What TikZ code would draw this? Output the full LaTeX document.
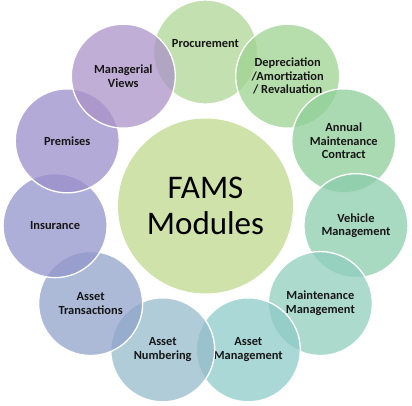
\documentclass[tikz,border=0pt]{standalone}
\usepackage{fontspec}
\setmainfont{Carlito}
\usepackage{tikz}
\definecolor{hubgreen}{RGB}{207,226,169}
\definecolor{procure}{RGB}{175,213,150}
\definecolor{deprec}{RGB}{158,211,144}
\definecolor{annual}{RGB}{142,206,152}
\definecolor{vehicle}{RGB}{139,204,172}
\definecolor{maintain}{RGB}{144,207,190}
\definecolor{assetmgmt}{RGB}{142,203,200}
\definecolor{assetnum}{RGB}{148,187,203}
\definecolor{assettrans}{RGB}{144,163,203}
\definecolor{insure}{RGB}{146,148,203}
\definecolor{premise}{RGB}{155,142,203}
\definecolor{manager}{RGB}{171,147,200}
\definecolor{labeltext}{RGB}{22,22,22}
\tikzset{
	module/.style={
		circle,
		minimum size=104pt,
		inner sep=0pt,
		align=center,
		draw=white,
		line width=1.3pt,
		fill opacity=0.75,
		text opacity=1,
		text=labeltext,
		font=\bfseries\fontsize{12.4}{13.7}\selectfont
	},
	hub/.style={
		circle,
		minimum size=175pt,
		inner sep=0pt,
		align=center,
		fill=hubgreen,
		text=black,
		font=\fontsize{33}{36}\selectfont
	}
}

\begin{document}
\begin{tikzpicture}
	\useasboundingbox (-205.5pt,-201pt) rectangle (206.5pt,204pt);
	\node[hub] (fams) at (0pt,-2pt) {FAMS\\Modules};

	\node[module,fill=procure]    (proc)  at (90:152pt)      {\raisebox{5pt}[0pt][0pt]{Procurement}};
	\node[module,fill=deprec]     (depr)  at (57.27:152pt)   {Depreciation\\/Amortization\\/ Revaluation};
	\node[module,fill=annual]     (amc)   at (24.55:152pt)   {Annual\\Maintenance\\Contract};
	\node[module,fill=vehicle]    (veh)   at (-8.18:152pt)   {Vehicle\\Management};
	\node[module,fill=maintain]   (maint) at (-40.91:152pt)  {Maintenance\\Management};
	\node[module,fill=assetmgmt]  (amgmt) at (-73.64:152pt)  {Asset\\Management};
	\node[module,fill=assetnum]   (anum)  at (-106.36:152pt) {Asset\\Numbering};
	\node[module,fill=assettrans] (atran) at (-139.09:152pt) {Asset\\Transactions};
	\node[module,fill=insure]     (ins)   at (-171.82:152pt) {Insurance};
	\node[module,fill=premise]    (prem)  at (155.45:152pt)  {Premises};
	\node[module,fill=manager]    (views) at (122.73:152pt)  {Managerial\\Views};
\end{tikzpicture}
\end{document}
